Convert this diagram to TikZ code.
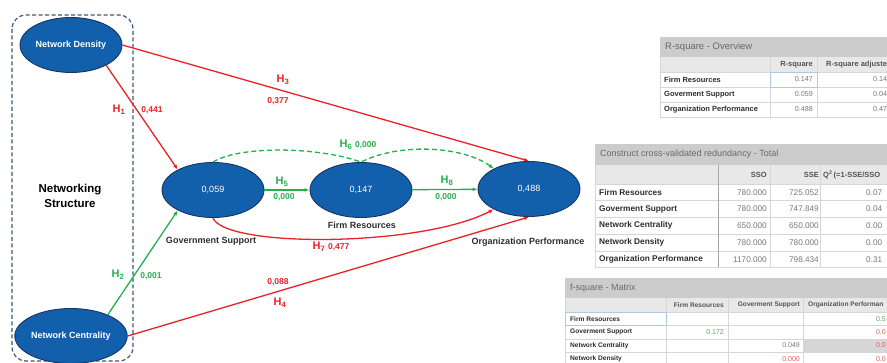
\documentclass[tikz,border=0pt]{standalone}
\usepackage{fontspec}
\setmainfont{Liberation Sans}
\usetikzlibrary{shapes.geometric,arrows.meta}
\definecolor{cblue}{RGB}{18,96,172}
\definecolor{cnavy}{RGB}{24,52,96}
\definecolor{hred}{RGB}{232,34,40}
\definecolor{hgreen}{RGB}{38,174,78}
\definecolor{boxline}{RGB}{58,88,122}
\definecolor{labgray}{RGB}{45,45,45}
\definecolor{bargray}{RGB}{204,204,204}
\definecolor{headgray}{RGB}{232,232,232}
\definecolor{gridgray}{RGB}{214,214,214}
\definecolor{titlegray}{RGB}{105,105,105}
\definecolor{valgray}{RGB}{120,120,120}
\definecolor{selblue}{RGB}{172,202,226}
\definecolor{tgreen}{RGB}{88,168,92}
\definecolor{tred}{RGB}{222,98,92}

\begin{document}
\begin{tikzpicture}[x=1pt,y=-1pt,
  construct/.style={ellipse,draw=cnavy,line width=0.9pt,fill=cblue,minimum width=102pt,minimum height=55pt,inner sep=0pt,text=white},
  cname/.style={font=\fontsize{9}{11}\selectfont\bfseries},
  cval/.style={font=\fontsize{9}{11}\selectfont},
  clabel/.style={text=labgray,font=\fontsize{9}{11}\selectfont\bfseries},
  hyp/.style={font=\fontsize{11}{13}\selectfont\bfseries},
  coef/.style={font=\fontsize{8.5}{10}\selectfont\bfseries},
  hpath/.style={line width=1.3pt,-{Latex[length=5pt,width=4pt]}},
  ttitle/.style={anchor=west,inner sep=0pt,text=titlegray,font=\fontsize{9}{11}\selectfont},
  thead/.style={inner sep=0pt,text=titlegray!80!black,font=\fontsize{#1}{#1}\selectfont\bfseries},
  tlbl/.style={anchor=west,inner sep=0pt,text=labgray,font=\fontsize{#1}{#1}\selectfont\bfseries},
  tval/.style={inner sep=0pt,text=valgray,font=\fontsize{#1}{#1}\selectfont}]
\useasboundingbox (0,0) rectangle (887,363);
\clip (0,0) rectangle (887,363);

% networking structure group
\draw[boxline,line width=1.2pt,dash pattern=on 4pt off 2.5pt,rounded corners=14pt] (12,15) rectangle (133,361);
\node[align=center,font=\fontsize{11.5}{15}\selectfont\bfseries] (NS) at (70,196) {Networking\\Structure};

% constructs
\node[construct,cname] (ND) at (71,45) {Network Density};
\node[construct,cname] (NC) at (71,336) {Network Centrality};
\node[construct,cval] (GS) at (213,190) {0,059};
\node[construct,cval] (FR) at (361,190) {0,147};
\node[construct,cval] (OP) at (529,189) {0,488};
\node[clabel] (GSl) at (211,241) {Government Support};
\node[clabel] (FRl) at (362,225) {Firm Resources};
\node[clabel] (OPl) at (528,242) {Organization Performance};

% hypotheses
\draw[hpath,hred] (ND.-30) -- (GS.150);
\draw[hpath,hred] (ND.east) -- (OP.north);
\draw[hpath,hgreen] (NC.30) -- (GS.210);
\draw[hpath,hred] (NC.east) -- (OP.south);
\draw[hpath,hgreen] (GS) -- (FR);
\draw[hpath,hgreen] (FR) -- (OP);
\draw[hpath,hgreen,dash pattern=on 5pt off 3pt] (GS.north) .. controls +(25,-16) and +(-45,-16) .. (FR.north)
  .. controls +(40,-20) and +(-30,-22) .. (OP.150);
\draw[hpath,hred] (GS.south) .. controls +(12,30) and +(-73,38) .. (OP.210);

\node[hyp,hred] (h1) at (119,110) {H\textsubscript{1}};
\node[coef,hred] (c1) at (152,110) {0,441};
\node[hyp,hred] (h3) at (283,80) {H\textsubscript{3}};
\node[coef,hred] (c3) at (278,101) {0,377};
\node[hyp,hgreen] (h2) at (118,275) {H\textsubscript{2}};
\node[coef,hgreen] (c2) at (151,276) {0,001};
\node[coef,hred] (c4) at (278,282) {0,088};
\node[hyp,hred] (h4) at (280,303) {H\textsubscript{4}};
\node[hyp,hgreen] (h5) at (282,182) {H\textsubscript{5}};
\node[coef,hgreen] (c5) at (284,197) {0,000};
\node[hyp,hgreen] (h8) at (447,181) {H\textsubscript{8}};
\node[coef,hgreen] (c8) at (446,197) {0,000};
\node[hgreen] (h6) at (358,145) {{\fontsize{11}{13}\selectfont\bfseries H\textsubscript{6}} {\fontsize{8.5}{10}\selectfont\bfseries 0,000}};
\node[hred] (h7) at (331,247) {{\fontsize{11}{13}\selectfont\bfseries H\textsubscript{7}} {\fontsize{8.5}{10}\selectfont\bfseries 0,477}};

% R-square - Overview
\fill[bargray] (660,37) rectangle (887,57);
\fill[headgray] (660,57) rectangle (887,72);
\foreach \y in {72,87,102,117} \draw[gridgray] (660,\y) -- (887,\y);
\foreach \x in {660,770,817} \draw[gridgray] (\x,57) -- (\x,117);
\draw[selblue,line width=0.8pt] (770,72) rectangle (817,87);
\node[ttitle,font=\fontsize{9.5}{11}\selectfont] (rsT) at (665,47) {R-square - Overview};
\node[thead=7.5,anchor=east] (rsH1) at (813,64.5) {R-square};
\node[thead=7.5,anchor=west] (rsH2) at (826,64.5) {R-square adjuste};
\foreach \lbl/\va/\vb [count=\i] in {Firm Resources/0.147/0.14,Goverment Support/0.059/0.04,Organization Performance/0.488/0.47}{
  \node[tlbl=7.5] (rsL\i) at (664,64.5+15*\i) {\lbl};
  \node[tval=7.2,anchor=east] (rsA\i) at (813,64.5+15*\i) {\va};
  \node[tval=7.2,anchor=west] (rsB\i) at (873,64.5+15*\i) {\vb};
}

% Construct cross-validated redundancy - Total
\fill[bargray] (595,144) rectangle (887,165);
\fill[headgray] (595,165) rectangle (887,184);
\foreach \i in {0,...,5} \draw[gridgray] (595,184+16.7*\i) -- (887,184+16.7*\i);
\foreach \x in {595,770,820} \draw[gridgray] (\x,165) -- (\x,267.5);
\draw[gray!70] (718,165) -- (718,267.5);
\node[ttitle] (rdT) at (600,154.5) {Construct cross-validated redundancy - Total};
\node[thead=7.5,anchor=east] (rdH1) at (767,175) {SSO};
\node[thead=7.5,anchor=east] (rdH2) at (819,175) {SSE};
\node[thead=7.5,anchor=west] (rdH3) at (823,175) {Q\textsuperscript{2}\,(=1-SSE/SSO};
\foreach \lbl/\va/\vb/\vc [count=\i] in {Firm Resources/780.000/725.052/0.07,Goverment Support/780.000/747.849/0.04,Network Centrality/650.000/650.000/0.00,Network Density/780.000/780.000/0.00,Organization Performance/1170.000/798.434/0.31}{
  \node[tlbl=8.3] (rdL\i) at (599,175.7+16.7*\i) {\lbl};
  \node[tval=8.2,anchor=east] (rdA\i) at (767,175.7+16.7*\i) {\va};
  \node[tval=8.2,anchor=east] (rdB\i) at (819,175.7+16.7*\i) {\vb};
  \node[tval=8.2,anchor=west] (rdC\i) at (866,175.7+16.7*\i) {\vc};
}

% f-square - Matrix
\fill[bargray] (565,278) rectangle (887,298);
\fill[headgray] (565,298) rectangle (887,312);
\fill[gridgray] (803,338.8) rectangle (887,352.2);
\foreach \i in {0,...,4} \draw[gridgray] (565,312+13.4*\i) -- (887,312+13.4*\i);
\foreach \x in {565,666,728,803} \draw[gridgray] (\x,298) -- (\x,365);
\draw[selblue,line width=0.8pt] (565,312) rectangle (666,325.4);
\node[ttitle] (fsT) at (570,288) {f-square - Matrix};
\node[thead=6.6,anchor=east] (fsH1) at (724,305) {Firm Resources};
\node[thead=6.6,anchor=east] (fsH2) at (800,305) {Goverment Support};
\node[thead=6.6,anchor=west] (fsH3) at (808,305) {Organization Performan};
\foreach \lbl [count=\i] in {Firm Resources,Goverment Support,Network Centrality,Network Density}
  \node[tlbl=6.6] (fsL\i) at (570,305.3+13.4*\i) {\lbl};
\node[tval=7,anchor=east,text=tgreen] (fsV1) at (724,332.1) {0.172};
\node[tval=7,anchor=east] (fsV2) at (800,345.5) {0.049};
\node[tval=7,anchor=east,text=tred] (fsV3) at (800,358.9) {0.000};
\node[tval=7,anchor=east,text=tgreen] (fsV4) at (886,318.7) {0.5};
\foreach \i in {2,3,4}
  \node[tval=7,anchor=east,text=tred] (fsO\i) at (886,305.3+13.4*\i) {0.0};
\end{tikzpicture}
\end{document}
